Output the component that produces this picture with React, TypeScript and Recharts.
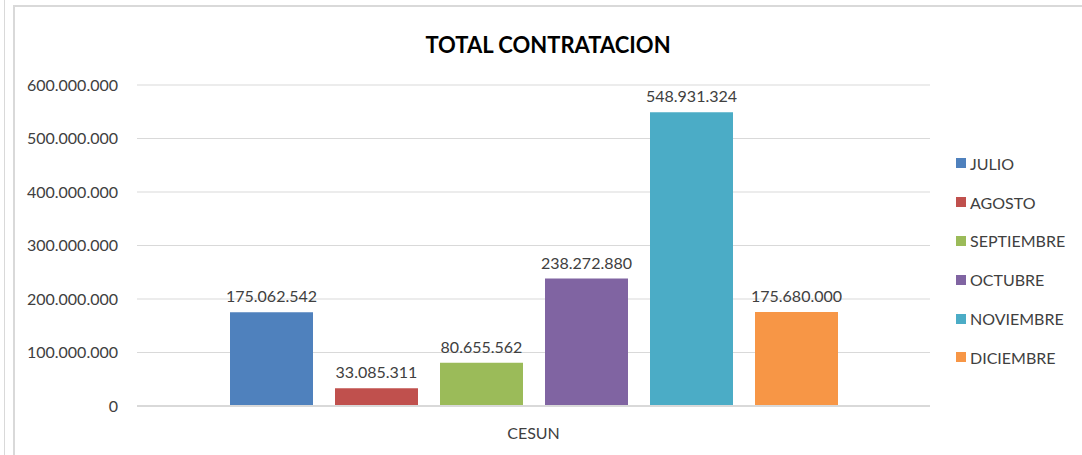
import React from 'react';
import { BarChart, Bar, XAxis, YAxis, CartesianGrid, Legend, LabelList } from 'recharts';

const categories = ['CESUN'];
const months = ['JULIO', 'AGOSTO', 'SEPTIEMBRE', 'OCTUBRE', 'NOVIEMBRE', 'DICIEMBRE'];
const values = [175062542, 33085311, 80655562, 238272880, 548931324, 175680000];
const colors = ['#4F81BD', '#C0504D', '#9BBB59', '#8064A2', '#4BACC6', '#F79646'];
const yTicks = [0, 100000000, 200000000, 300000000, 400000000, 500000000, 600000000];

const data = categories.map((c) => {
  const row: Record<string, any> = { name: c };
  months.forEach((m, i) => {
    row[m] = values[i];
  });
  return row;
});

const fmt = (v: any) => {
  const n = Math.round(Number(v));
  return String(n).replace(/\B(?=(\d{3})+(?!\d))/g, '.');
};

const FONT = 'Lato, "Open Sans", sans-serif';

const LegendContent = () => (
  <div style={{ fontFamily: FONT, fontSize: 16, color: '#404040' }}>
    {months.map((m, i) => (
      <div key={m} style={{ display: 'flex', alignItems: 'center', height: 38.8 }}>
        <span style={{ display: 'inline-block', width: 10, height: 10, background: colors[i], marginRight: 4 }} />
        <span>{m}</span>
      </div>
    ))}
  </div>
);

export default function App() {
  return (
    <div style={{ position: 'absolute', left: 0, top: 0, width: 1082, height: 455, overflow: 'hidden', background: '#fff' }}>
      <div style={{ position: 'absolute', left: 4, top: 0, width: 1, height: 455, background: '#d9d9d9' }} />
      <div style={{ position: 'absolute', left: 13, top: 5, width: 1100, height: 470, border: '2px solid #d9d9d9', boxSizing: 'border-box' }} />
      <div style={{ position: 'absolute', left: 0, top: 31, width: 1082, textAlign: 'center', fontFamily: FONT, fontWeight: 700, fontSize: 22, color: '#000', paddingLeft: 14, boxSizing: 'border-box' }}>
        TOTAL CONTRATACION
      </div>
      <div style={{ position: 'absolute', left: 0, top: 0 }}>
        <BarChart
          width={1082}
          height={455}
          data={data}
          margin={{ top: 85, right: 26, bottom: 19, left: 0 }}
          barCategoryGap={91}
          barGap={22}
        >
          <CartesianGrid vertical={false} stroke="#d9d9d9" strokeWidth={1} />
          <XAxis
            dataKey="name"
            height={30}
            tickLine={false}
            axisLine={{ stroke: '#d9d9d9', strokeWidth: 2 }}
            tick={{ fill: '#404040', fontSize: 16, fontFamily: FONT }}
            tickMargin={16}
          />
          <YAxis
            width={137}
            domain={[0, 600000000]}
            ticks={yTicks}
            tickFormatter={fmt}
            tickLine={false}
            axisLine={false}
            tickMargin={13}
            tick={{ fill: '#404040', fontSize: 16, fontFamily: FONT }}
          />
          <Legend
            layout="vertical"
            align="right"
            verticalAlign="top"
            content={<LegendContent />}
            wrapperStyle={{ left: 956, top: 144, width: 126 }}
          />
          {months.map((m, i) => (
            <Bar key={m} dataKey={m} fill={colors[i]} barSize={83} isAnimationActive={false}>
              <LabelList
                dataKey={m}
                position="top"
                offset={10}
                formatter={fmt}
                style={{ fill: '#404040', fontSize: 16, fontFamily: FONT }}
              />
            </Bar>
          ))}
        </BarChart>
      </div>
    </div>
  );
}
